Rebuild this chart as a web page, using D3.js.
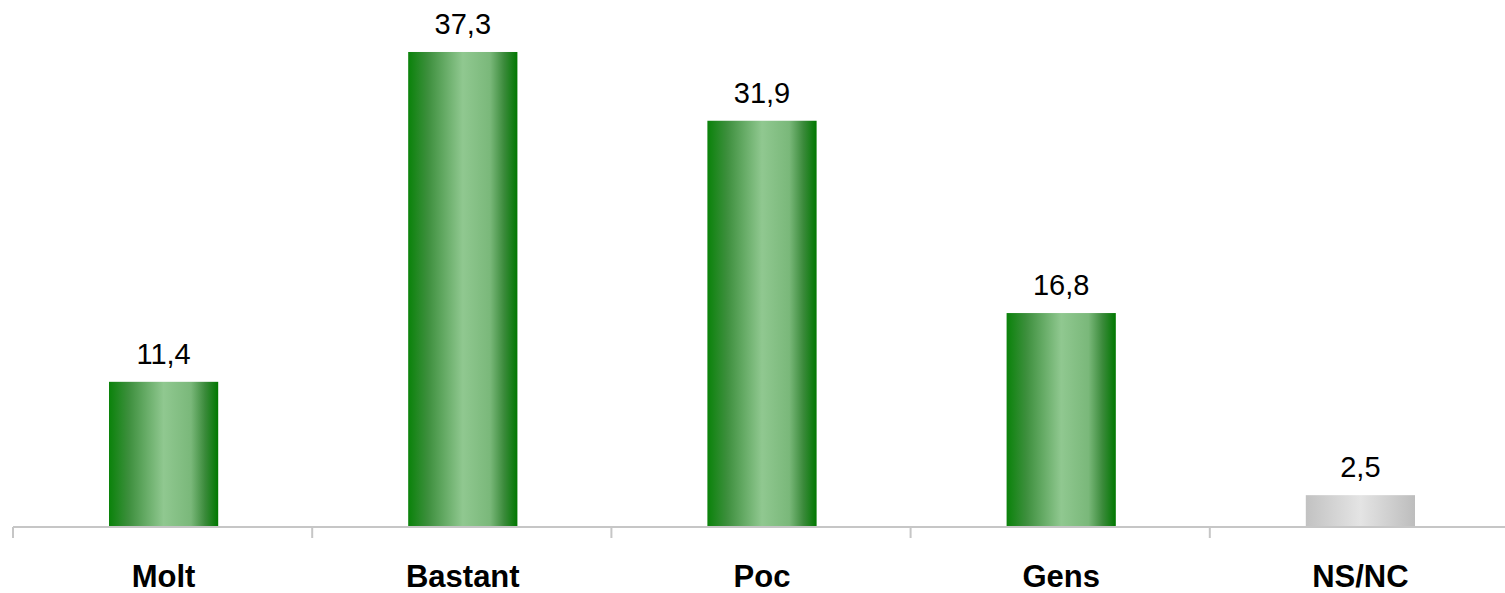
<!DOCTYPE html>
<html><head><meta charset="utf-8">
<script src="https://cdn.jsdelivr.net/npm/d3@7"></script>
<style>body{margin:0;background:#fff}svg{display:block}</style>
</head><body>
<svg id="chart" width="1505" height="593"></svg>
<script>
const categories = ["Molt", "Bastant", "Poc", "Gens", "NS/NC"];
const values = [11.4, 37.3, 31.9, 16.8, 2.5];
const labels = ["11,4", "37,3", "31,9", "16,8", "2,5"];
const gradients = ["green", "green", "green", "green", "gray"];

const svg = d3.select("#chart");
const axisY = 527;
const x = d3.scaleBand().domain(categories).range([14, 1510]).paddingInner(0.635).paddingOuter(0.3175);
const y = d3.scaleLinear().domain([0, 40]).range([axisY, axisY - 40 * 12.735]);

const defs = svg.append("defs");
const g1 = defs.append("linearGradient").attr("id", "green").attr("x1", "0").attr("x2", "1").attr("y1", "0").attr("y2", "0");
[[0, "#0a820a"], [0.18, "#3d8f3d"], [0.5, "#90c890"], [0.75, "#7ab87a"], [0.88, "#3a8a3a"], [1, "#007800"]]
  .forEach(([o, c]) => g1.append("stop").attr("offset", o).attr("stop-color", c));
const g2 = defs.append("linearGradient").attr("id", "gray").attr("x1", "0").attr("x2", "1").attr("y1", "0").attr("y2", "0");
[[0, "#c2c2c2"], [0.5, "#e4e4e4"], [1, "#bdbdbd"]]
  .forEach(([o, c]) => g2.append("stop").attr("offset", o).attr("stop-color", c));

svg.selectAll("rect.bar").data(categories).join("rect").attr("class", "bar")
  .attr("x", d => x(d))
  .attr("width", x.bandwidth())
  .attr("y", (d, i) => y(values[i]))
  .attr("height", (d, i) => axisY - y(values[i]))
  .attr("fill", (d, i) => `url(#${gradients[i]})`);

const xAxisScale = d3.scaleBand().domain(categories).range([13, 1509]);
const axis = svg.append("g").attr("transform", `translate(0,${axisY})`);
axis.append("line").attr("x1", 13).attr("x2", 1509).attr("y1", 0).attr("y2", 0)
  .attr("stroke", "#c6c6c6").attr("stroke-width", 2);
const tickXs = categories.map(c => xAxisScale(c)).concat([xAxisScale.range()[1]]);
axis.selectAll("line.tick").data(tickXs).join("line").attr("class", "tick")
  .attr("x1", d => d).attr("x2", d => d).attr("y1", 0).attr("y2", 11)
  .attr("stroke", "#c6c6c6").attr("stroke-width", 2);
axis.selectAll("text").data(categories).join("text")
  .attr("x", d => xAxisScale(d) + xAxisScale.bandwidth() / 2 + 1)
  .attr("y", 60)
  .attr("text-anchor", "middle")
  .attr("font-family", "Liberation Sans, Arial, sans-serif")
  .attr("font-weight", "bold")
  .attr("font-size", 31)
  .attr("fill", "#000")
  .text(d => d);

svg.selectAll("text.val").data(categories).join("text").attr("class", "val")
  .attr("x", d => x(d) + x.bandwidth() / 2)
  .attr("y", (d, i) => y(values[i]) - 18)
  .attr("text-anchor", "middle")
  .attr("font-family", "Liberation Sans, Arial, sans-serif")
  .attr("font-size", 29)
  .attr("fill", "#000")
  .text((d, i) => labels[i]);
</script>
</body></html>
